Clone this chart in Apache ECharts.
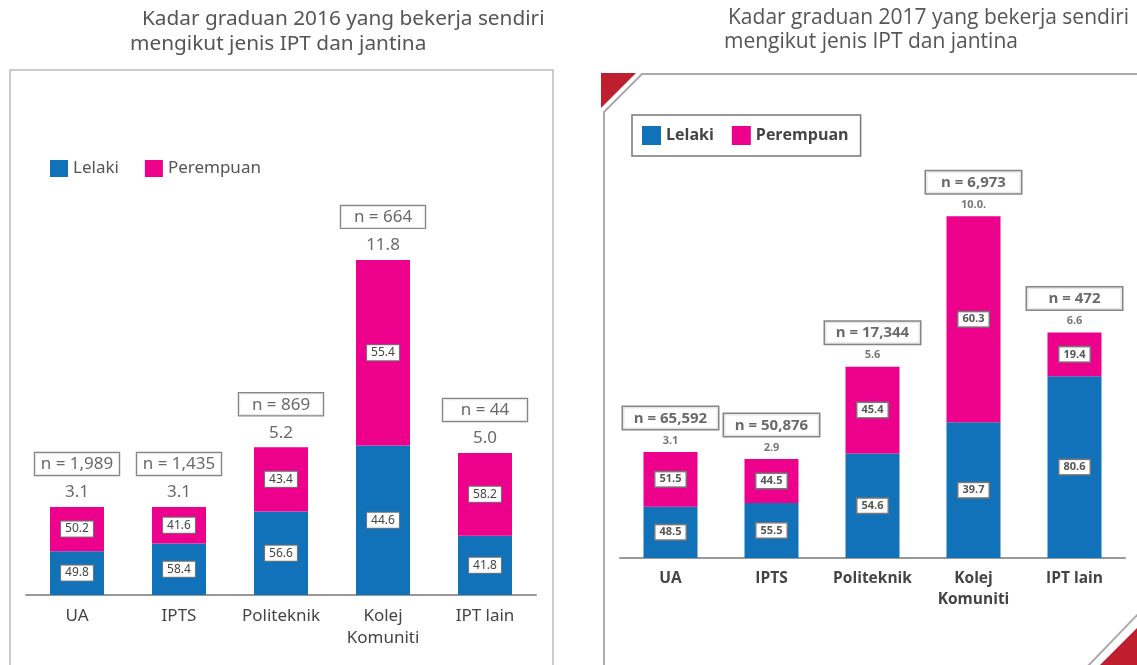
<!DOCTYPE html>
<html>
<head>
<meta charset="utf-8">
<script src="https://cdn.jsdelivr.net/npm/echarts@6/dist/echarts.min.js"></script>
<style>
  html, body { margin: 0; padding: 0; background: #fff; }
  #main { width: 1137px; height: 665px; }
</style>
</head>
<body>
<div id="main"></div>
<script>
// categories
var cats = ['UA', 'IPTS', 'Politeknik', 'Kolej\nKomuniti', 'IPT lain'];

// 2016
var total2016 = [3.1, 3.1, 5.2, 11.8, 5.0];
var lelaki2016 = [49.8, 58.4, 56.6, 44.6, 41.8];
var perempuan2016 = [50.2, 41.6, 43.4, 55.4, 58.2];
var n2016 = ['1,989', '1,435', '869', '664', '44'];

// 2017
var total2017 = [3.1, 2.9, 5.6, 10.0, 6.6];
var totalText2017 = ['3.1', '2.9', '5.6', '10.0.', '6.6'];
var lelaki2017 = [48.5, 55.5, 54.6, 39.7, 80.6];
var perempuan2017 = [51.5, 44.5, 45.4, 60.3, 19.4];
var n2017 = ['65,592', '50,876', '17,344', '6,973', '472'];

var BLUE = '#1172ba', PINK = '#ec008c', RED = '#be1e2d';
var F16 = 'Noto Sans', F17 = 'Open Sans';

function part(total, pct) {
  return total.map(function (t, i) { return t * pct[i] / 100; });
}

var pctLabel16 = {
  show: true, position: 'inside', fontFamily: F16, fontSize: 12, color: '#444',
  backgroundColor: '#fff', borderColor: '#777', borderWidth: 1, padding: [2, 4, 1, 4]
};
var pctLabel17 = {
  show: true, position: 'inside', fontFamily: F17, fontSize: 11, fontWeight: 'bold', color: '#555',
  backgroundColor: '#fff', borderColor: '#777', borderWidth: 1.5, padding: [2, 4, 1, 4]
};

var chart = echarts.init(document.getElementById('main'));
chart.setOption({
  animation: false,
  title: [
    { text: 'Kadar graduan 2016 yang bekerja sendiri', left: 137, top: 4,
      textStyle: { fontFamily: F16, fontSize: 20.8, fontWeight: 'normal', color: '#555' } },
    { text: 'mengikut jenis IPT dan jantina', left: 125, top: 29,
      textStyle: { fontFamily: F16, fontSize: 20.8, fontWeight: 'normal', color: '#555' } },
    { text: 'Kadar graduan 2017 yang bekerja sendiri', left: 723, top: 3,
      textStyle: { fontFamily: F17, fontSize: 21, fontWeight: 'normal', color: '#555' } },
    { text: 'mengikut jenis IPT dan jantina', left: 719, top: 27,
      textStyle: { fontFamily: F17, fontSize: 21, fontWeight: 'normal', color: '#555' } }
  ],
  legend: [
    { data: ['Lelaki', 'Perempuan'], left: 50, top: 160, icon: 'rect',
      itemWidth: 18, itemHeight: 17, itemGap: 26, padding: 0,
      textStyle: { fontFamily: F16, fontSize: 17, color: '#555' } },
    { data: ['Lelaki', 'Perempuan'], left: 632, top: 115, icon: 'rect',
      itemWidth: 19, itemHeight: 19, itemGap: 18, padding: [11, 12, 11, 10],
      borderColor: '#777', borderWidth: 1.5,
      textStyle: { fontFamily: F17, fontSize: 16, fontWeight: 'bold', color: '#444' } }
  ],
  grid: [
    { left: 26, width: 510, top: 169, height: 426 },
    { left: 620, width: 505, top: 148, height: 410 }
  ],
  xAxis: [
    { type: 'category', gridIndex: 0, data: cats,
      axisTick: { show: false }, axisLine: { lineStyle: { color: '#999', width: 2 } },
      axisLabel: { interval: 0, margin: 10, fontFamily: F16, fontSize: 17, color: '#444', lineHeight: 22 } },
    { type: 'category', gridIndex: 1, data: cats,
      axisTick: { show: false }, axisLine: { lineStyle: { color: '#999', width: 2 } },
      axisLabel: { interval: 0, margin: 10, fontFamily: F17, fontSize: 15.5, fontWeight: 'bold', color: '#444', lineHeight: 21 } }
  ],
  yAxis: [
    { type: 'value', gridIndex: 0, min: 0, max: 15, show: false },
    { type: 'value', gridIndex: 1, min: 0, max: 12, show: false }
  ],
  series: [
    { name: 'Lelaki', type: 'bar', xAxisIndex: 0, yAxisIndex: 0, stack: 's16', barWidth: 54,
      itemStyle: { color: BLUE }, data: part(total2016, lelaki2016),
      label: Object.assign({ formatter: function (p) { return lelaki2016[p.dataIndex].toFixed(1); } }, pctLabel16) },
    { name: 'Perempuan', type: 'bar', xAxisIndex: 0, yAxisIndex: 0, stack: 's16', barWidth: 54,
      itemStyle: { color: PINK }, data: part(total2016, perempuan2016),
      label: Object.assign({ formatter: function (p) { return perempuan2016[p.dataIndex].toFixed(1); } }, pctLabel16) },
    { name: 'total16', type: 'scatter', xAxisIndex: 0, yAxisIndex: 0, symbolSize: 0, silent: true,
      data: total2016,
      label: { show: true, position: 'top', distance: 6, fontFamily: F16, fontSize: 17, color: '#444',
        formatter: function (p) { return total2016[p.dataIndex].toFixed(1); } } },
    { name: 'n16', type: 'scatter', xAxisIndex: 0, yAxisIndex: 0, symbolSize: 0, silent: true,
      data: total2016,
      label: { show: true, position: 'top', distance: 32, fontFamily: F16, fontSize: 17, color: '#444',
        width: 72, align: 'center', backgroundColor: '#fff', borderColor: '#666', borderWidth: 1.2,
        padding: [3, 6, 2, 6],
        formatter: function (p) { return 'n = ' + n2016[p.dataIndex]; } } },

    { name: 'Lelaki', type: 'bar', xAxisIndex: 1, yAxisIndex: 1, stack: 's17', barWidth: 54,
      itemStyle: { color: BLUE }, data: part(total2017, lelaki2017),
      label: Object.assign({ formatter: function (p) { return lelaki2017[p.dataIndex].toFixed(1); } }, pctLabel17) },
    { name: 'Perempuan', type: 'bar', xAxisIndex: 1, yAxisIndex: 1, stack: 's17', barWidth: 54,
      itemStyle: { color: PINK }, data: part(total2017, perempuan2017),
      label: Object.assign({ formatter: function (p) { return perempuan2017[p.dataIndex].toFixed(1); } }, pctLabel17) },
    { name: 'total17', type: 'scatter', xAxisIndex: 1, yAxisIndex: 1, symbolSize: 0, silent: true,
      data: total2017,
      label: { show: true, position: 'top', distance: 6, fontFamily: F17, fontSize: 11, fontWeight: 'bold', color: '#555',
        formatter: function (p) { return totalText2017[p.dataIndex]; } } },
    { name: 'n17', type: 'scatter', xAxisIndex: 1, yAxisIndex: 1, symbolSize: 0, silent: true,
      data: total2017,
      label: { show: true, position: 'top', distance: 23, fontFamily: F17, fontSize: 15, fontWeight: 'bold', color: '#444',
        width: 83, align: 'center', backgroundColor: '#fff', borderColor: '#666', borderWidth: 1.5,
        padding: [4, 6, 3, 6],
        formatter: function (p) { return 'n = ' + n2017[p.dataIndex]; } } }
  ],
  graphic: [
    { type: 'rect', silent: true, z: -1, shape: { x: 10, y: 70, width: 543, height: 640 },
      style: { fill: 'none', stroke: '#bbb', lineWidth: 1.5 } },
    { type: 'polygon', silent: true, shape: { points: [[601, 73], [636, 73], [601, 108]] },
      style: { fill: RED } },
    { type: 'polyline', silent: true, shape: { points: [[1140, 74], [642, 74], [604, 112], [604, 670]] },
      style: { stroke: '#aaa', lineWidth: 2, fill: 'none' } },
    { type: 'polygon', silent: true, shape: { points: [[1137, 628], [1137, 665], [1100, 665]] },
      style: { fill: RED } },
    { type: 'polyline', silent: true, shape: { points: [[1140, 612], [1086, 668]] },
      style: { stroke: '#aaa', lineWidth: 2, fill: 'none' } }
  ]
});
</script>
</body>
</html>
